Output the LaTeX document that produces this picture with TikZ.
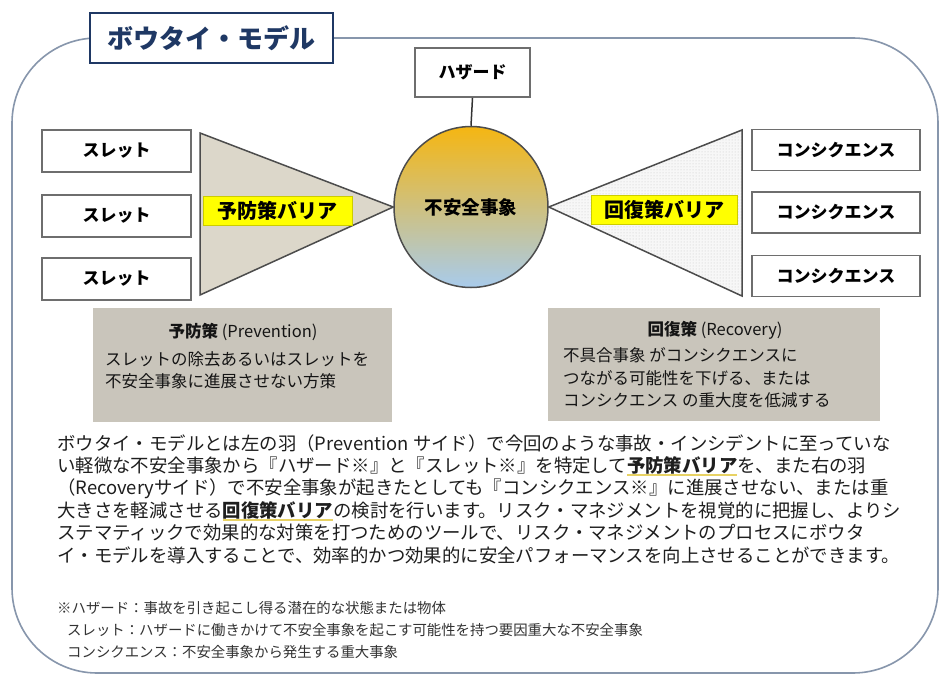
\documentclass[tikz,border=0pt]{standalone}
\usepackage{fontspec}
\setmainfont{Noto Sans CJK JP}
\usetikzlibrary{shapes.geometric,patterns}
\definecolor{framec}{RGB}{135,150,172}
\definecolor{navy}{RGB}{31,56,100}
\definecolor{boxgray}{RGB}{110,110,110}
\definecolor{barL}{RGB}{220,215,202}
\definecolor{hl}{RGB}{255,255,0}
\definecolor{notebg}{RGB}{201,197,187}
\definecolor{evtop}{RGB}{245,182,18}
\definecolor{evmid}{RGB}{214,200,150}
\definecolor{evbot}{RGB}{168,203,236}
\definecolor{ulc}{RGB}{232,210,100}
\definecolor{txt}{RGB}{30,30,30}
\newcommand\yul[1]{\setbox0\hbox{\bfseries #1}\rlap{\textcolor{ulc}{\rule[-3.5pt]{\wd0}{1.6pt}}}\box0}
\begin{document}
\begin{tikzpicture}[x=1pt,y=-1pt,
  slet/.style={draw=boxgray,line width=1.8pt,fill=white,minimum width=149pt,minimum height=42pt,inner sep=0pt,font=\fontsize{17}{20}\selectfont\bfseries},
  cons/.style={draw=boxgray,line width=1.8pt,fill=white,minimum width=168pt,minimum height=41pt,inner sep=0pt,font=\fontsize{17}{20}\selectfont\bfseries},
  barlabel/.style={fill=hl,draw=hl!80!black,line width=0.4pt,inner sep=0pt,minimum height=29pt,font=\fontsize{20}{24}\selectfont\bfseries},
  notebox/.style={fill=notebg,draw=none},
  notetxt/.style={anchor=west,inner sep=0pt,text=black!92,font=\fontsize{16.5}{20}\selectfont},
  para/.style={anchor=west,inner sep=0pt,text=txt,font=\fontsize{18.4}{22}\selectfont},
  foot/.style={anchor=west,inner sep=0pt,text=black!80,font=\fontsize{14.4}{17}\selectfont},
  barrier/.style={draw=black!70,line width=1.5pt,line join=miter}
]
\useasboundingbox (0,0) rectangle (940,677);
\fill[white] (0,0) rectangle (940,677);
% outer frame
\draw[framec,line width=1.6pt,rounded corners=85pt] (12,38) rectangle (938,673);
% title
\node[draw=navy,line width=2.5pt,fill=white,minimum width=243pt,minimum height=50pt,inner sep=0pt,text=navy,font=\fontsize{26}{30}\selectfont\bfseries] (title) at (211.5,38) {ボウタイ・モデル};
% central event
\node[ellipse,draw=black!70,line width=1.5pt,minimum width=154pt,minimum height=161pt,inner sep=0pt,top color=evtop,middle color=evmid,bottom color=evbot,font=\fontsize{18.5}{22}\selectfont\bfseries] (ev) at (471,207) {不安全事象};
% hazard
\node[draw=boxgray,line width=1.8pt,fill=white,minimum width=115pt,minimum height=49pt,inner sep=0pt,font=\fontsize{17}{20}\selectfont\bfseries] (hz) at (472.5,72.5) {ハザード};
\draw[black!80,line width=1.5pt] (hz.south) -- (ev.north);
% barriers
\coordinate (lt) at (200,133);
\coordinate (lb) at (200,295);
\coordinate (rt) at (742,130);
\coordinate (rb) at (742,296);
\filldraw[barrier,fill=barL] (lt) -- (ev.west) -- (lb) -- cycle;
\fill[black!3] (ev.east) -- (rt) -- (rb) -- cycle;
\fill[pattern=dots,pattern color=black!22] (ev.east) -- (rt) -- (rb) -- cycle;
\draw[barrier] (ev.east) -- (rt) -- (rb) -- cycle;
\node[barlabel,minimum width=149pt] (pb) at (277.5,210.5) {予防策バリア};
\node[barlabel,minimum width=146pt] (rbar) at (664,210) {回復策バリア};
% threats
\node[slet] (s1) at (116.5,151) {スレット};
\node[slet] (s2) at (116.5,216) {スレット};
\node[slet] (s3) at (116.5,279) {スレット};
% consequences
\node[cons] (c1) at (836,150) {コンシクエンス};
\node[cons] (c2) at (836,212.5) {コンシクエンス};
\node[cons] (c3) at (836,276) {コンシクエンス};
% note boxes
\node[notebox,minimum width=299pt,minimum height=114pt,inner sep=0pt] (nL) at (242.5,365) {};
\node[notebox,minimum width=332pt,minimum height=113pt,inner sep=0pt] (nR) at (714,364.5) {};
\node[inner sep=0pt,text=black!92,font=\fontsize{16.5}{20}\selectfont] (nLt) at (243,332) {\textbf{予防策} (Prevention)};
\node[notetxt] (nL1) at (105,359) {スレットの除去あるいはスレットを};
\node[notetxt] (nL2) at (105,381) {不安全事象に進展させない方策};
\node[inner sep=0pt,text=black!92,font=\fontsize{16.5}{20}\selectfont] (nRt) at (715,330) {\textbf{回復策} (Recovery)};
\node[notetxt] (nR1) at (563,355) {不具合事象 がコンシクエンスに};
\node[notetxt] (nR2) at (563,378) {つながる可能性を下げる、または};
\node[notetxt] (nR3) at (563,400) {コンシクエンス の重大度を低減する};
% paragraph
\node[para] (p1) at (57,444) {ボウタイ・モデルとは左の羽（Prevention サイド）で今回のような事故・インシデントに至っていな};
\node[para] (p2) at (57,466) {い軽微な不安全事象から『ハザード※』と『スレット※』を特定して\yul{予防策バリア}を、また右の羽};
\node[para] (p3) at (57,489) {（Recoveryサイド）で不安全事象が起きたとしても『コンシクエンス※』に進展させない、または重};
\node[para] (p4) at (57,511) {大きさを軽減させる\yul{回復策バリア}の検討を行います。リスク・マネジメントを視覚的に把握し、よりシ};
\node[para] (p5) at (57,533) {ステマティックで効果的な対策を打つためのツールで、リスク・マネジメントのプロセスにボウタ};
\node[para] (p6) at (57,555) {イ・モデルを導入することで、効率的かつ効果的に安全パフォーマンスを向上させることができます。};
% footnotes
\node[foot] (f1) at (57,608) {※ハザード：事故を引き起こし得る潜在的な状態または物体};
\node[foot] (f2) at (67,630) {スレット：ハザードに働きかけて不安全事象を起こす可能性を持つ要因重大な不安全事象};
\node[foot] (f3) at (67,652) {コンシクエンス：不安全事象から発生する重大事象};
\end{tikzpicture}
\end{document}
